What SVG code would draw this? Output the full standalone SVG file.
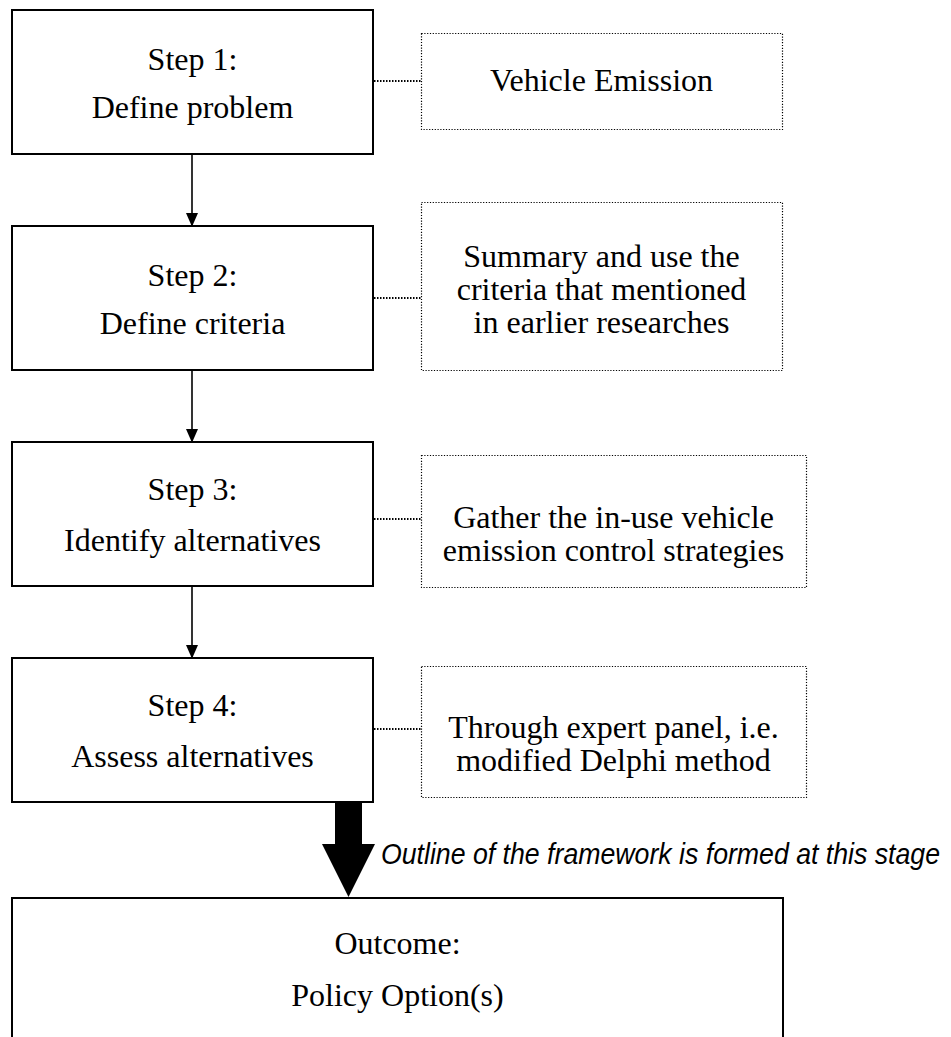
<svg xmlns="http://www.w3.org/2000/svg" width="951" height="1037" viewBox="0 0 951 1037">
  <style>
    .step { fill: #ffffff; stroke: #000000; stroke-width: 2; }
    .note { fill: #ffffff; stroke: #000000; stroke-width: 1.2; stroke-dasharray: 1.2 1.6; }
    .t { font-family: "Liberation Serif", "Times New Roman", serif; font-size: 32px; fill: #000000; text-anchor: middle; }
    .lbl { font-family: "Liberation Sans", Arial, sans-serif; font-size: 30px; font-style: italic; fill: #000000; }
    .flow { stroke: #000000; stroke-width: 1.6; fill: none; }
    .dot { stroke: #000000; stroke-width: 2; stroke-dasharray: 1.5 1.5; fill: none; }
  </style>
  <defs>
    <marker id="ah" markerWidth="14" markerHeight="16" refX="14" refY="7" orient="auto" markerUnits="userSpaceOnUse" viewBox="0 0 16 14">
      <path d="M0,0 L16,7 L0,14 Z" fill="#000000"/>
    </marker>
  </defs>
  <rect width="951" height="1037" fill="#ffffff"/>

  <g id="connectors">
    <line class="flow" x1="192" y1="155" x2="192" y2="225" marker-end="url(#ah)"/>
    <line class="flow" x1="192" y1="371" x2="192" y2="441" marker-end="url(#ah)"/>
    <line class="flow" x1="192" y1="587" x2="192" y2="657" marker-end="url(#ah)"/>
    <line class="dot" x1="374" y1="81" x2="421" y2="81"/>
    <line class="dot" x1="374" y1="298" x2="421" y2="298"/>
    <line class="dot" x1="374" y1="519" x2="421" y2="519"/>
    <line class="dot" x1="374" y1="729" x2="421" y2="729"/>
    <polygon id="big-arrow" points="335,803 362,803 362,844 375,844 348.5,897 322,844 335,844" fill="#000000"/>
    <text class="lbl" transform="translate(381,864) scale(0.89,1)" x="0" y="0">Outline of the framework is formed at this stage</text>
  </g>

  <g id="step1">
    <rect class="step" x="12" y="10" width="361" height="144"/>
    <text class="t" x="192.5" y="70">Step 1:</text>
    <text class="t" x="192.5" y="118">Define problem</text>
  </g>
  <g id="note1">
    <rect class="note" x="421.5" y="33.5" width="361" height="96"/>
    <text class="t" x="601.5" y="91">Vehicle Emission</text>
  </g>

  <g id="step2">
    <rect class="step" x="12" y="226" width="361" height="144"/>
    <text class="t" x="192.5" y="286">Step 2:</text>
    <text class="t" x="192.5" y="334">Define criteria</text>
  </g>
  <g id="note2">
    <rect class="note" x="421.5" y="202.5" width="361" height="168"/>
    <text class="t" x="601.5" y="267">Summary and use the</text>
    <text class="t" x="601.5" y="300">criteria that mentioned</text>
    <text class="t" x="601.5" y="333">in earlier researches</text>
  </g>

  <g id="step3">
    <rect class="step" x="12" y="442" width="361" height="144"/>
    <text class="t" x="192.5" y="500">Step 3:</text>
    <text class="t" x="192.5" y="551">Identify alternatives</text>
  </g>
  <g id="note3">
    <rect class="note" x="421.5" y="455.5" width="385" height="132"/>
    <text class="t" x="613.5" y="528">Gather the in-use vehicle</text>
    <text class="t" x="613.5" y="561">emission control strategies</text>
  </g>

  <g id="step4">
    <rect class="step" x="12" y="658" width="361" height="144"/>
    <text class="t" x="192.5" y="716">Step 4:</text>
    <text class="t" x="192.5" y="767">Assess alternatives</text>
  </g>
  <g id="note4">
    <rect class="note" x="421.5" y="666.5" width="385" height="131"/>
    <text class="t" x="613.5" y="738">Through expert panel, i.e.</text>
    <text class="t" x="613.5" y="771">modified Delphi method</text>
  </g>

  <g id="outcome">
    <rect class="step" x="12" y="898" width="771" height="160"/>
    <text class="t" x="397.5" y="954">Outcome:</text>
    <text class="t" x="397.5" y="1006">Policy Option(s)</text>
  </g>
</svg>
